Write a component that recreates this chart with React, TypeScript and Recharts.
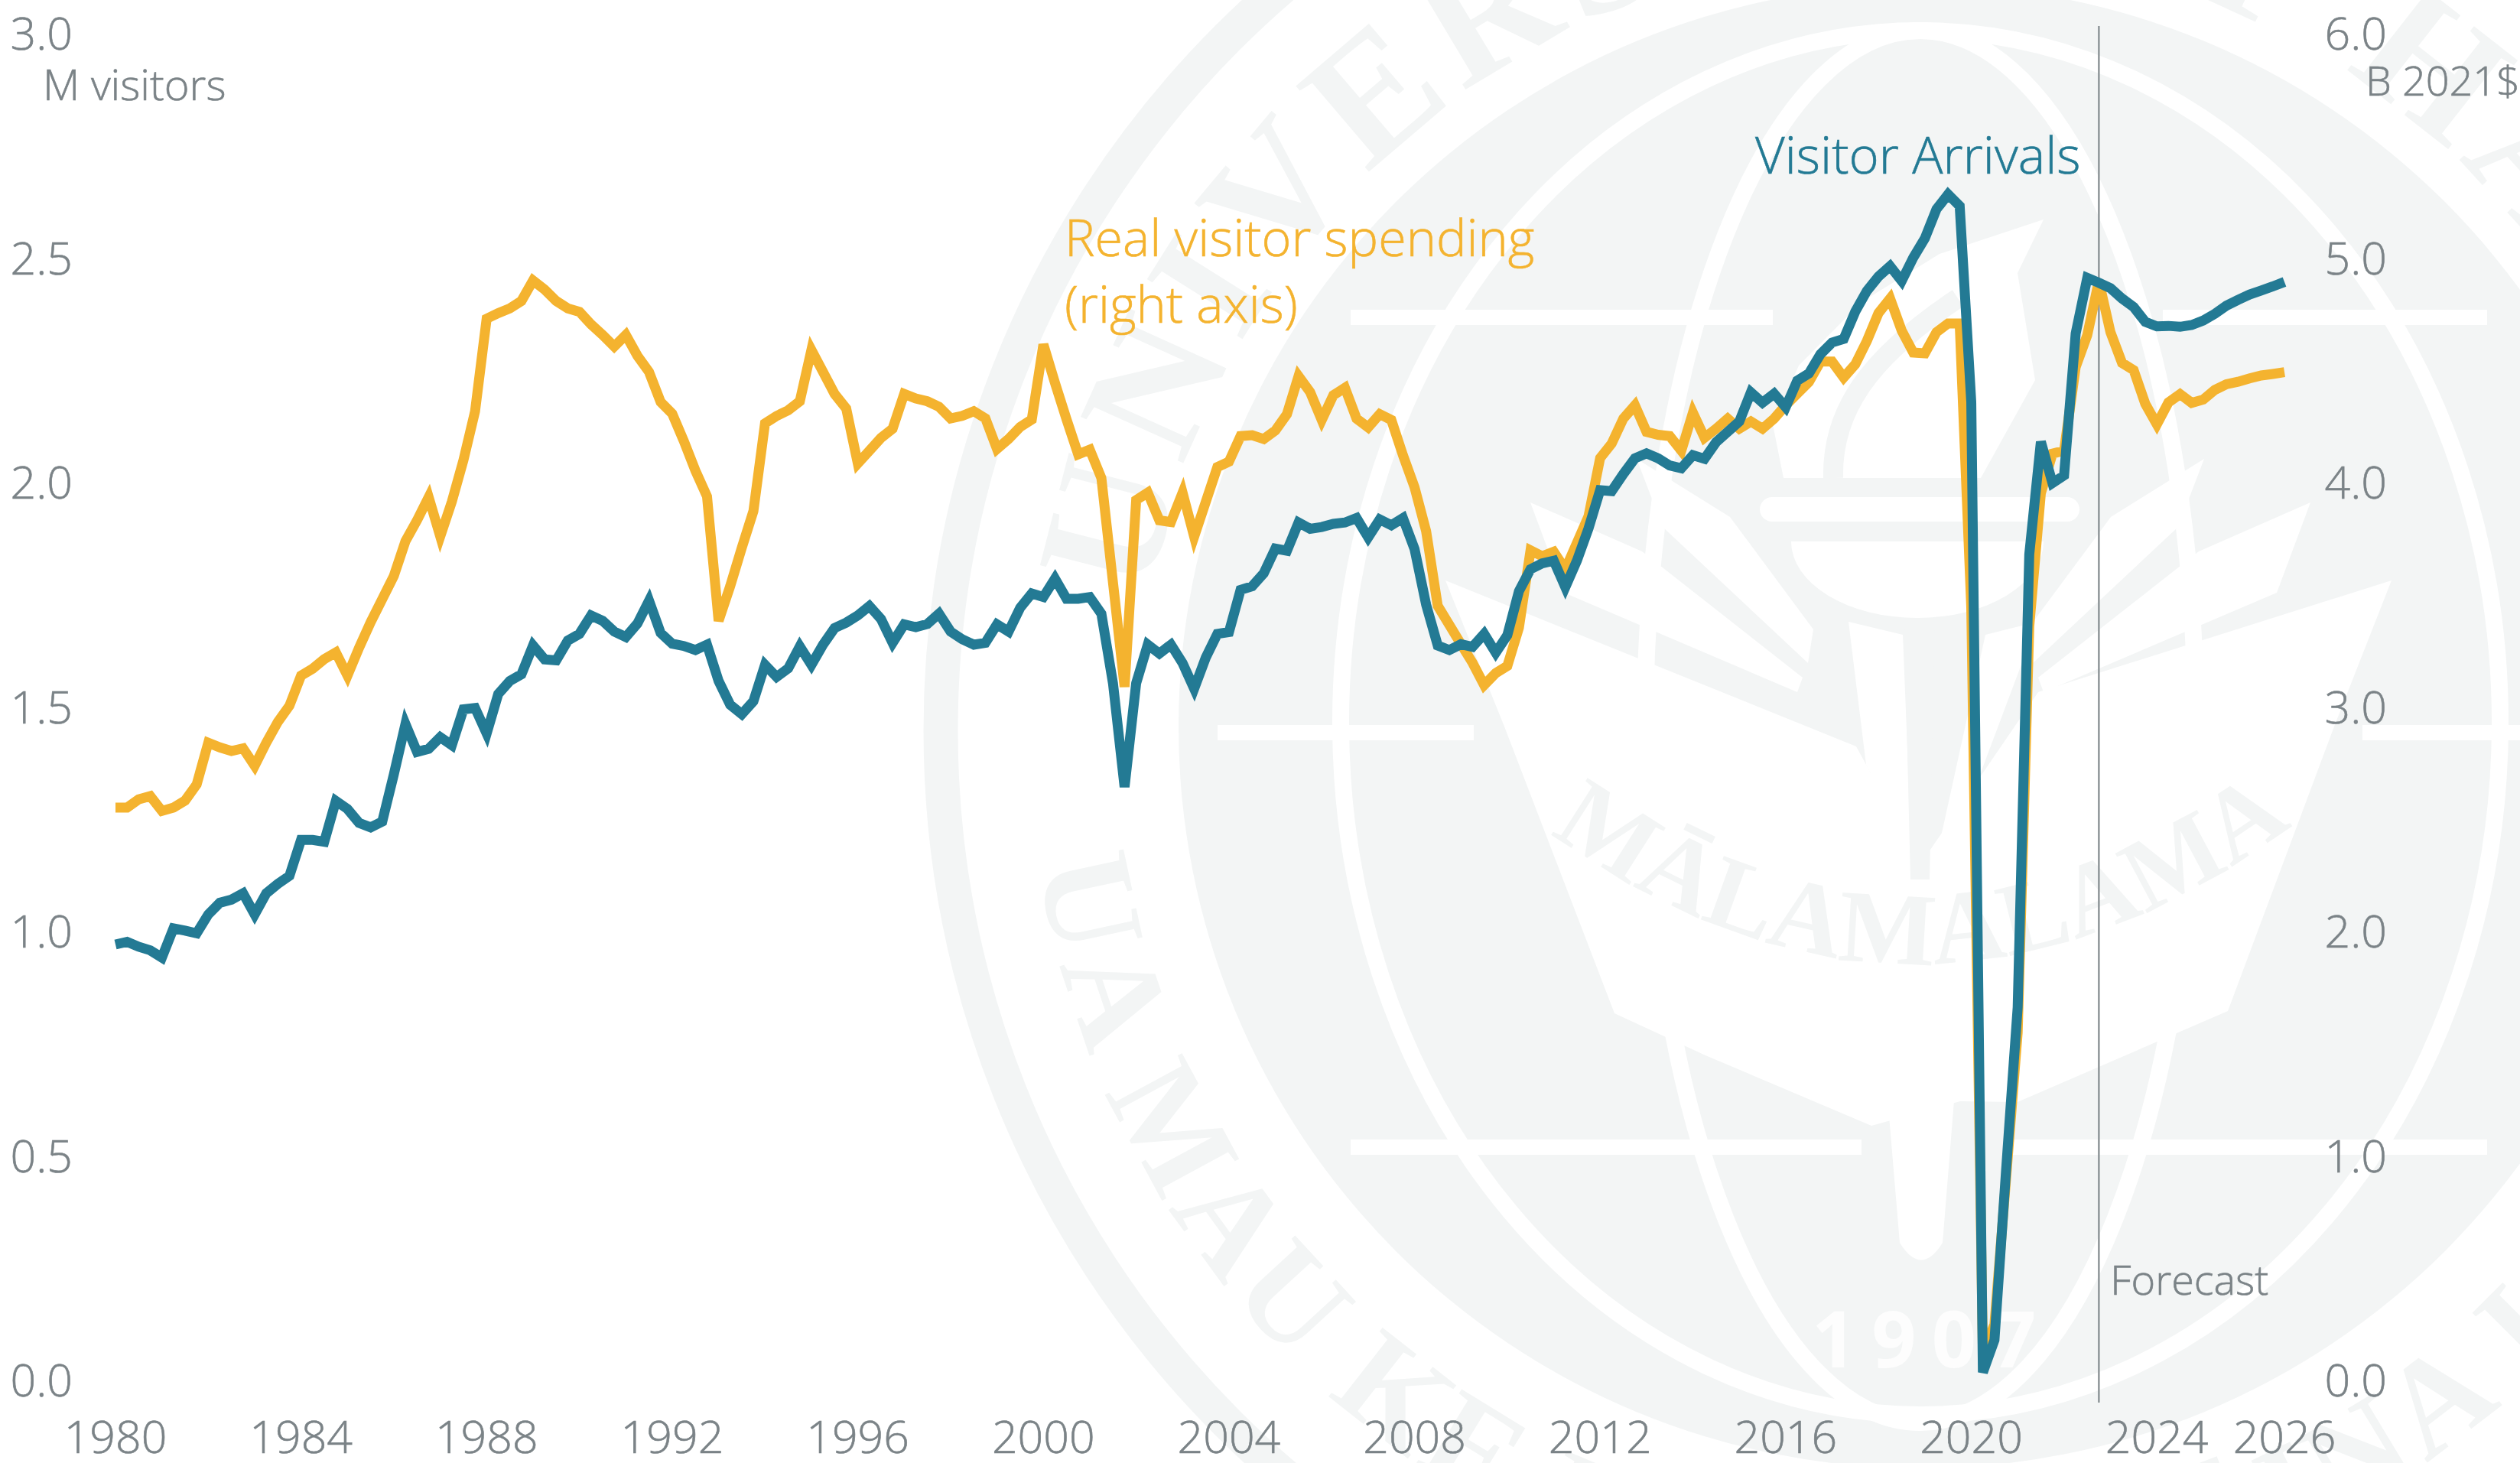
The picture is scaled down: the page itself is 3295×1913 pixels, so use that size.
import React from "react";
import {
  Line,
  LineChart,
  ReferenceLine,
  XAxis,
  YAxis,
} from "recharts";

// quarterly, 1980Q1 to 2026Q4 (20 values a row = 5 years)
const visitorArrivals: number[] = [
  0.971, 0.977, 0.966, 0.958, 0.942, 1.007, 1.002, 0.996, 1.038, 1.064, 1.071, 1.085, 1.038, 1.085, 1.106, 1.124, 1.204, 1.204, 1.2, 1.291,
  1.273, 1.242, 1.232, 1.245, 1.35, 1.462, 1.4, 1.407, 1.433, 1.415, 1.495, 1.498, 1.441, 1.529, 1.558, 1.573, 1.637, 1.606, 1.604, 1.648,
  1.663, 1.704, 1.692, 1.668, 1.656, 1.686, 1.737, 1.665, 1.641, 1.636, 1.627, 1.639, 1.558, 1.505, 1.484, 1.513, 1.594, 1.567, 1.586, 1.635,
  1.594, 1.639, 1.676, 1.688, 1.704, 1.725, 1.696, 1.643, 1.684, 1.678, 1.685, 1.708, 1.668, 1.651, 1.639, 1.643, 1.684, 1.668, 1.721, 1.753,
  1.745, 1.786, 1.741, 1.741, 1.745, 1.708, 1.553, 1.322, 1.553, 1.639, 1.619, 1.639, 1.598, 1.541, 1.61, 1.663, 1.667, 1.761, 1.769, 1.798,
  1.853, 1.848, 1.911, 1.897, 1.901, 1.908, 1.911, 1.921, 1.878, 1.918, 1.905, 1.921, 1.852, 1.728, 1.637, 1.627, 1.64, 1.634, 1.663, 1.621,
  1.66, 1.758, 1.807, 1.82, 1.826, 1.767, 1.826, 1.898, 1.983, 1.981, 2.019, 2.054, 2.065, 2.054, 2.038, 2.032, 2.061, 2.053, 2.09, 2.113,
  2.136, 2.201, 2.178, 2.198, 2.168, 2.227, 2.243, 2.286, 2.312, 2.32, 2.381, 2.427, 2.459, 2.482, 2.449, 2.501, 2.544, 2.609, 2.642, 2.616,
  2.179, 0.018, 0.09, 0.468, 0.831, 1.84, 2.091, 1.999, 2.016, 2.332, 2.456, 2.445, 2.433, 2.41, 2.391, 2.358, 2.348, 2.349, 2.347, 2.351,
  2.361, 2.376, 2.394, 2.407, 2.419, 2.428, 2.437, 2.447,
];

const visitorSpending: number[] = [
  2.552, 2.552, 2.589, 2.603, 2.537, 2.552, 2.583, 2.655, 2.841, 2.82, 2.804, 2.816, 2.738, 2.841, 2.934, 3.006, 3.14, 3.171, 3.213, 3.243,
  3.14, 3.264, 3.378, 3.481, 3.584, 3.739, 3.832, 3.935, 3.76, 3.915, 4.1, 4.317, 4.73, 4.755, 4.776, 4.809, 4.9, 4.86, 4.809, 4.776,
  4.761, 4.705, 4.658, 4.606, 4.658, 4.565, 4.493, 4.359, 4.307, 4.185, 4.053, 3.938, 3.384, 3.539, 3.71, 3.873, 4.264, 4.297, 4.322, 4.362,
  4.591, 4.493, 4.395, 4.33, 4.085, 4.142, 4.199, 4.24, 4.395, 4.375, 4.362, 4.338, 4.286, 4.297, 4.318, 4.286, 4.15, 4.194, 4.248, 4.281,
  4.615, 4.444, 4.281, 4.126, 4.147, 4.02, 3.555, 3.09, 3.922, 3.955, 3.832, 3.824, 3.955, 3.759, 3.914, 4.069, 4.093, 4.207, 4.211, 4.194,
  4.232, 4.305, 4.474, 4.403, 4.279, 4.389, 4.422, 4.285, 4.246, 4.305, 4.279, 4.122, 3.979, 3.783, 3.451, 3.366, 3.281, 3.197, 3.098, 3.151,
  3.183, 3.353, 3.698, 3.672, 3.692, 3.613, 3.731, 3.85, 4.109, 4.174, 4.285, 4.344, 4.226, 4.213, 4.207, 4.142, 4.311, 4.2, 4.24, 4.285,
  4.24, 4.272, 4.24, 4.285, 4.344, 4.396, 4.448, 4.539, 4.539, 4.468, 4.527, 4.631, 4.755, 4.82, 4.677, 4.579, 4.576, 4.67, 4.709, 4.709,
  3.444, 0.12, 0.25, 0.9, 1.55, 3.36, 3.953, 4.129, 4.142, 4.514, 4.657, 4.898, 4.67, 4.533, 4.501, 4.351, 4.259, 4.357, 4.394, 4.355,
  4.37, 4.413, 4.438, 4.449, 4.464, 4.477, 4.484, 4.492,
];

const quarters: string[] = visitorArrivals.map(
  (_, i) => `${1980 + Math.floor(i / 4)}Q${(i % 4) + 1}`
);

const xTicks = [
  "1980Q1", "1984Q1", "1988Q1", "1992Q1", "1996Q1", "2000Q1",
  "2004Q1", "2008Q1", "2012Q1", "2016Q1", "2020Q1", "2024Q1", "2026Q4",
];
const leftTicks = [0, 0.5, 1, 1.5, 2, 2.5, 3];
const rightTicks = [0, 1, 2, 3, 4, 5, 6];
const forecastStart = "2022Q4";

const chartData = quarters.map((quarter, i) => ({
  quarter,
  arrivals: visitorArrivals[i],
  spending: visitorSpending[i],
}));

const WIDTH = 3295;
const HEIGHT = 1913;
const FONT = '"Open Sans", sans-serif';
const SERIF = '"Liberation Serif", serif';
const GREY = "#7b8387";
const TEAL = "#237a94";
const ORANGE = "#f4b32f";
const SEAL = "#f3f5f5";

const labelStyle = (fill: string, fontSize: number) => ({
  fontFamily: FONT,
  fontWeight: 300,
  fontSize,
  fill,
  stroke: fill,
  strokeWidth: 0.6,
});

const YTick = ({ y, payload, right }: any) => (
  <text x={right ? 3121 : 95} y={y} dy={21} textAnchor="end" {...labelStyle(GREY, 59)}>
    {Number(payload.value).toFixed(1)}
  </text>
);

const XTick = ({ x, payload }: any) => (
  <text x={x} y={1900} textAnchor="middle" {...labelStyle(GREY, 59)}>
    {String(payload.value).slice(0, 4)}
  </text>
);

// the line runs a little past the plot area at both ends
const ForecastMarker = ({ x1, y1, y2 }: any) => (
  <g>
    <line
      x1={x1}
      x2={x1}
      y1={Math.min(y1, y2) - 10}
      y2={Math.max(y1, y2) + 29}
      stroke="#8f9699"
      strokeWidth={2.5}
    />
    <text x={x1 + 15} y={1693} {...labelStyle(GREY, 54)}>
      Forecast
    </text>
  </g>
);

// University seal behind the plot
const Seal = () => (
  <svg width={WIDTH} height={HEIGHT} style={{ position: "absolute", left: 0, top: 0 }}>
    <defs>
      <path id="sealTop" d="M 1491 950 A 1020 1020 0 1 1 3531 950 A 1020 1020 0 1 1 1491 950" />
      <path id="sealBottom" d="M 1344 950 A 1167 1167 0 1 0 3678 950 A 1167 1167 0 1 0 1344 950" />
      <path id="sealBook" d="M 2050 1105 Q 2511 1420 2975 1095" />
      <clipPath id="sealDisc">
        <circle cx={2511} cy={950} r={970} />
      </clipPath>
    </defs>
    <circle cx={2511} cy={955} r={1281} fill="none" stroke={SEAL} strokeWidth={45} />
    <circle cx={2511} cy={950} r={970} fill={SEAL} />
    <g clipPath="url(#sealDisc)">
      <ellipse cx={2511} cy={945} rx={758} ry={905} fill="none" stroke="#fff" strokeWidth={22} />
      <ellipse cx={2511} cy={950} rx={360} ry={910} fill="none" stroke="#fff" strokeWidth={22} />
      <rect x={1766} y={405} width={552} height={20} fill="#fff" />
      <rect x={2828} y={405} width={424} height={20} fill="#fff" />
      <rect x={1592} y={948} width={335} height={20} fill="#fff" />
      <rect x={3089} y={948} width={206} height={20} fill="#fff" />
      <rect x={1766} y={1490} width={668} height={20} fill="#fff" />
      <rect x={2630} y={1490} width={622} height={20} fill="#fff" />
      {/* open book */}
      <polygon
        points="1890,759 2427,976 2511,1130 2665,905 3127,759 3052,950 2913,1322 2638,1441 2563,1440 2447,1472 2230,1380 2111,1325 1967,950"
        fill="#fff"
      />
      <path d="M 2460 1340 L 2563 1340 L 2540 1625 Q 2512 1670 2484 1625 Z" fill="#fff" />
      {/* leaves */}
      <polygon points="2882,600 2848,689 2658,867 2651,823 2760,676" fill="#fff" />
      <polygon points="3021,657 2977,775 2672,905 2665,886 2875,721" fill="#fff" />
      <polygon points="2140,600 2174,689 2364,867 2371,823 2262,676" fill="#fff" />
      <polygon points="2001,657 2045,775 2350,905 2357,886 2147,721" fill="#fff" />
      {/* torch */}
      <polygon points="2332,625 2318,555 2352,478 2434,395 2536,332 2672,287 2638,357 2661,497 2590,625" fill="#fff" />
      <path d="M 2397 625 C 2395 540 2440 470 2560 390" fill="none" stroke={SEAL} strokeWidth={26} />
      <rect x={2301} y={650} width={418} height={32} rx={16} fill="#fff" />
      <path d="M 2342 708 A 165 100 0 0 0 2672 708 Z" fill="#fff" />
      <polygon points="2417,813 2488,830 2500,1130 2440,1000" fill="#fff" />
      <polygon points="2596,830 2664,813 2590,1010 2530,1130" fill="#fff" />
      <polygon points="2490,820 2530,820 2523,1150 2498,1150" fill={SEAL} />
    </g>
    <text fontFamily={SERIF} fontWeight={700} fontSize={135} fill={SEAL} textAnchor="middle">
      <textPath href="#sealBook" startOffset="50%">
        MĀLAMALAMA
      </textPath>
    </text>
    <text x={2369} y={1788} fontFamily={FONT} fontWeight={700} fontSize={102} fill="#fdfdfd" letterSpacing={20}>
      1907
    </text>
    <text fontFamily={SERIF} fontWeight={700} fontSize={225} fill={SEAL} letterSpacing={14}>
      <textPath href="#sealTop" startOffset={169}>
        UNIVERSITY OF HAWAI‘I
      </textPath>
    </text>
    <text fontFamily={SERIF} fontWeight={700} fontSize={175} fill={SEAL} letterSpacing={8}>
      <textPath href="#sealBottom" startOffset={181}>
        UA MAU KE EA O KA ‘ĀINA I KA PONO
      </textPath>
    </text>
  </svg>
);

const App: React.FC = () => (
  <div style={{ position: "absolute", left: 0, top: 0, width: WIDTH, height: HEIGHT, background: "#fff", overflow: "hidden" }}>
    <Seal />
    <div style={{ position: "absolute", left: 0, top: 0 }}>
      <LineChart
        width={WIDTH}
        height={HEIGHT}
        data={chartData}
        margin={{ top: 44, right: 0, bottom: 0, left: 0 }}
      >
        <XAxis
          dataKey="quarter"
          ticks={xTicks}
          interval={0}
          height={108}
          axisLine={false}
          tickLine={false}
          tick={<XTick />}
        />
        <YAxis
          yAxisId="left"
          width={151}
          domain={[0, 3]}
          ticks={leftTicks}
          axisLine={false}
          tickLine={false}
          tick={<YTick />}
        />
        <YAxis
          yAxisId="right"
          orientation="right"
          width={308}
          domain={[0, 6]}
          ticks={rightTicks}
          axisLine={false}
          tickLine={false}
          tick={<YTick right />}
        />
        <ReferenceLine yAxisId="left" x={forecastStart} shape={<ForecastMarker />} />
        <Line
          yAxisId="right"
          type="linear"
          dataKey="spending"
          stroke={ORANGE}
          strokeWidth={13}
          strokeLinejoin="miter"
          dot={false}
          isAnimationActive={false}
        />
        <Line
          yAxisId="left"
          type="linear"
          dataKey="arrivals"
          stroke={TEAL}
          strokeWidth={13}
          strokeLinejoin="miter"
          dot={false}
          isAnimationActive={false}
        />
        <text x={56} y={131} {...labelStyle(GREY, 56)}>
          M visitors
        </text>
        <text x={3093} y={125} {...labelStyle(GREY, 54)}>
          B 2021$
        </text>
        <text x={2295} y={227} {...labelStyle(TEAL, 67)}>
          Visitor Arrivals
        </text>
        <text x={1392} y={335} {...labelStyle(ORANGE, 66.5)}>
          Real visitor spending
        </text>
        <text x={1392} y={422} {...labelStyle(ORANGE, 66.5)}>
          (right axis)
        </text>
      </LineChart>
    </div>
  </div>
);

export default App;
